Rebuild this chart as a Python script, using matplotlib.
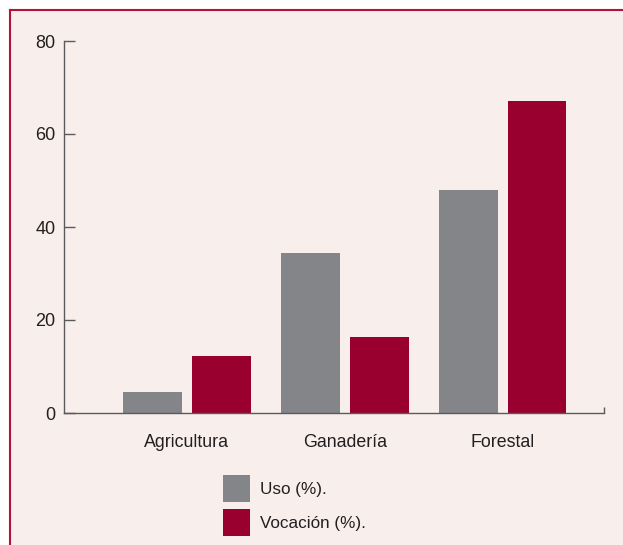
import numpy as np
import matplotlib.pyplot as plt
from matplotlib.patches import Rectangle
from matplotlib.lines import Line2D

# datos
categorias = ['Agricultura', 'Ganadería', 'Forestal']
uso = [4.5, 34.4, 48.0]
vocacion = [12.3, 16.3, 67.1]
series = ['Uso (%).', 'Vocación (%).']

gris = '#848589'
rojo = '#990030'
fondo = '#f8eeec'
borde = '#b3123f'
texto = '#231f20'

plt.rcParams['font.family'] = ['Liberation Sans', 'DejaVu Sans']

fig = plt.figure(figsize=(6.23, 5.45), dpi=100, facecolor='white')
W, H = 623, 545

# fondo rosado y borde
fig.patches.append(Rectangle((10 / W, 0), 1, 1 - 10 / H, transform=fig.transFigure,
                             facecolor=fondo, edgecolor='none', zorder=-5))
fig.add_artist(Line2D([10 / W, 1], [1 - 10 / H, 1 - 10 / H], color=borde, lw=1.5, zorder=-4))
fig.add_artist(Line2D([10 / W, 10 / W], [0, 1 - 10 / H], color=borde, lw=1.5, zorder=-4))

ax = fig.add_axes([64 / W, 132 / H, 540 / W, 372 / H])
ax.set_facecolor('none')

x = np.arange(len(categorias))
ancho = 0.373
desp = 0.218
ax.bar(x - desp, uso, ancho, color=gris, label=series[0], zorder=2)
ax.bar(x + desp, vocacion, ancho, color=rojo, label=series[1], zorder=2)

xder = 2.642
ax.set_xlim(-0.778, xder)
ax.set_ylim(0, 80)
ax.set_yticks([0, 20, 40, 60, 80])
ax.set_xticks(x)
ax.set_xticklabels(categorias)
ax.set_xticks([xder], minor=True)

for s in ['top', 'right']:
    ax.spines[s].set_visible(False)
for s in ['left', 'bottom']:
    ax.spines[s].set_color('#5a5a5c')
    ax.spines[s].set_linewidth(1.0)

ax.tick_params(axis='y', direction='in', length=8, width=1.0, color='#5a5a5c',
               labelsize=13, labelcolor=texto, pad=6)
ax.tick_params(axis='x', which='major', length=0, labelsize=12.8, labelcolor=texto, pad=15)
ax.tick_params(axis='x', which='minor', direction='in', length=4, width=1.0, color='#5a5a5c')

ax.legend(loc='upper left', bbox_to_anchor=(208 / W, 85 / H), bbox_transform=fig.transFigure,
          frameon=False, fontsize=12.3, handlelength=1.55, handleheight=2.0,
          labelspacing=0.45, handletextpad=0.6, labelcolor=texto)

plt.savefig('out.png', dpi=100, facecolor=fig.get_facecolor())
